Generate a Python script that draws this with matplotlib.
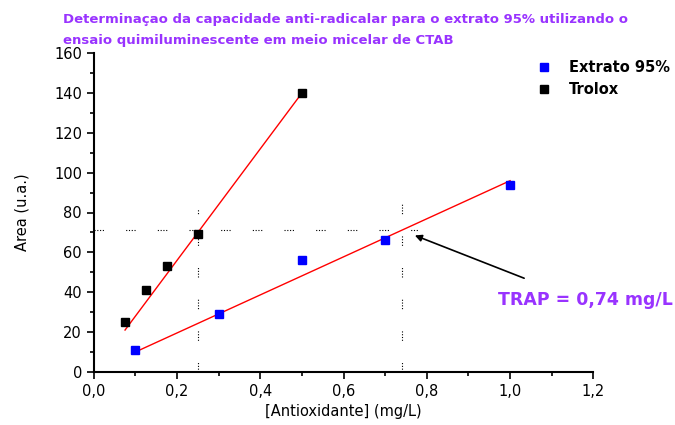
import matplotlib.pyplot as plt
import numpy as np
from matplotlib.ticker import MultipleLocator, FuncFormatter

# dados
trolox_x = [0.075, 0.125, 0.175, 0.25, 0.5]
trolox_y = [25, 41, 53, 69, 140]
extrato_x = [0.1, 0.3, 0.5, 0.7, 1.0]
extrato_y = [11, 29, 56, 66, 94]

# retas de ajuste (inclinação, intercepto)
trolox_fit = (280.0, 0.0)
extrato_fit = (95.5, 0.45)

area_ref = 71        # área de referência
x_trolox_ref = 0.25
trap = 0.74

purple = '#9933FF'

fig = plt.figure(figsize=(6.75, 4.25), dpi=100)
ax = fig.add_axes([0.139, 0.125, 0.74, 0.75])

# linhas pontilhadas de referência
dots = (0, (1, 1.5, 1, 1.5, 1, 1.5, 1, 20))
ax.plot([0, 0.78], [area_ref, area_ref], color='black', lw=0.8, linestyle=dots)
ax.plot([x_trolox_ref, x_trolox_ref], [0, 82], color='black', lw=0.8, linestyle=dots)
ax.plot([trap, trap], [0, 85], color='black', lw=0.8, linestyle=dots)

# retas de ajuste
xt = np.array([min(trolox_x), max(trolox_x)])
ax.plot(xt, trolox_fit[0] * xt + trolox_fit[1], color='red', lw=1)
xe = np.array([min(extrato_x), max(extrato_x)])
ax.plot(xe, extrato_fit[0] * xe + extrato_fit[1], color='red', lw=1)

ax.plot(extrato_x, extrato_y, 's', color='#0000FF', ms=6, label='Extrato 95%', zorder=3)
ax.plot(trolox_x, trolox_y, 's', color='black', ms=6, label='Trolox', zorder=3)

ax.annotate('', xy=(0.765, 69), xytext=(1.04, 46.5),
            arrowprops=dict(arrowstyle='-|>', color='black', lw=1.2, mutation_scale=10))
ax.text(1.18, 36, 'TRAP = 0,74 mg/L', color=purple, fontsize=12.5, fontweight='bold',
        ha='center', va='center')

ax.set_xlim(0, 1.2)
ax.set_ylim(0, 160)
ax.xaxis.set_major_locator(MultipleLocator(0.2))
ax.xaxis.set_minor_locator(MultipleLocator(0.1))
ax.yaxis.set_major_locator(MultipleLocator(20))
ax.yaxis.set_minor_locator(MultipleLocator(10))
ax.xaxis.set_major_formatter(FuncFormatter(lambda v, p: f'{v:.1f}'.replace('.', ',')))
ax.spines['top'].set_visible(False)
ax.spines['right'].set_visible(False)
ax.spines['left'].set_linewidth(1.5)
ax.spines['bottom'].set_linewidth(1.5)
ax.tick_params(which='major', direction='out', length=5, width=1.2, labelsize=10.5)
ax.tick_params(which='minor', direction='out', length=3, width=1.2)

ax.set_xlabel('[Antioxidante] (mg/L)', fontsize=10.5)
ax.set_ylabel('Area (u.a.)', fontsize=10.5, labelpad=18)

ax.legend(loc='upper left', bbox_to_anchor=(0.86, 1.02), frameon=False,
          prop={'weight': 'bold', 'size': 10.5}, handletextpad=1.2, labelspacing=0.5,
          handlelength=1)

fig.text(0.093, 0.955, 'Determinaçao da capacidade anti-radicalar para o extrato 95% utilizando o',
         color=purple, fontsize=9.5, fontweight='bold', va='center')
fig.text(0.093, 0.905, 'ensaio quimiluminescente em meio micelar de CTAB',
         color=purple, fontsize=9.5, fontweight='bold', va='center')

fig.savefig('out.png', dpi=100)
